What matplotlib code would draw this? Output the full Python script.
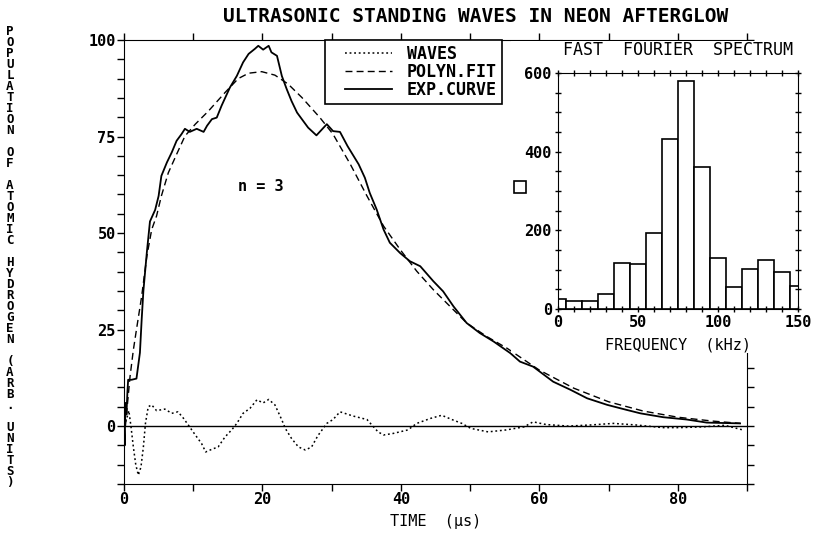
import numpy as np
import matplotlib.pyplot as plt
from matplotlib.patches import Rectangle
from matplotlib.lines import Line2D
from matplotlib.legend_handler import HandlerLine2D
from matplotlib.ticker import MultipleLocator

exp_t = [0, 0.1, 0.2, 0.35, 0.5, 0.6, 1.1, 1.8, 2.3, 2.55, 2.8, 3.3, 3.75, 4.5, 5.0,
         5.4, 6.2, 6.9, 7.6, 8.3, 8.8, 9.5, 10.5, 11.5, 12.0, 12.7, 13.4, 14.1, 15.3,
         16.3, 17.2, 18.0, 18.9, 19.4, 20.1, 20.9, 21.3, 22.1, 22.8, 23.5, 24.2, 25.0,
         25.9, 26.6, 27.8, 29.3, 30.2, 31.2, 32.3, 33.9, 34.8, 35.5, 36.5, 37.5, 38.4,
         39.9, 41.3, 42.8, 44.7, 46.1, 47.6, 49.5, 51.4, 53.4, 55.8, 57.2, 59.1, 62.0,
         64.5, 66.9, 69.8, 72.6, 74.6, 77.9, 81.3, 84.2, 89.0]
exp_v = [0, -5, 6, 3, 9, 12, 12, 12.3, 19, 27.5, 35, 45, 53, 56, 59.6,
         64.8, 68.3, 70.9, 73.9, 75.6, 77, 76.2, 77, 76.2, 77.8, 79.5, 79.9, 83, 87.7,
         90.7, 94.2, 96.4, 97.7, 98.5, 97.5, 98.5, 96.8, 95.9, 90.7, 87.3, 84.2, 81.2,
         79, 77.3, 75.3, 78.2, 76.4, 76.2, 72.5, 67.8, 64.3, 60.4, 56.1, 50.9, 47.5,
         44.8, 42.7, 41.4, 37.5, 34.9, 31, 26.7, 24.1, 21.9, 18.9, 16.7, 15.4, 11.5,
         9.4, 7.2, 5.5, 4.2, 3.3, 2.3, 1.7, 0.9, 0.7]

# polynomial fit (dashed)
poly_t = [0.2, 0.87, 1.35, 1.8, 2.55, 3.3, 4.0, 4.7, 5.4, 6.4, 7.6, 8.8, 10.3, 12.2,
          14.6, 16.5, 18.0, 19.9, 21.8, 23.7, 25.7, 28.3, 30.2, 32.7, 35.1, 37.5, 39.9,
          42.3, 44.7, 47.1, 49.5, 52.4, 55.3, 60, 65, 70, 75, 80, 85, 89]
poly_v = [0, 12.8, 19.7, 25, 33.6, 44, 50.9, 54.4, 59.6, 65.6, 70.4, 75.1, 78.2, 81.6,
          86.4, 90, 91.4, 91.8, 90.9, 88.6, 85.1, 79.9, 75.6, 67.8, 59.6, 51.8, 45.7,
          40.1, 35.3, 31, 26.7, 23.2, 20.2, 14.5, 9.8, 6.3, 3.9, 2.3, 1.3, 0.7]

# waves = exp - fit (dotted)
waves_t = [0, 0.4, 0.7, 1.0, 1.35, 1.7, 2.07, 2.45, 2.8, 3.1, 3.5, 4.0, 4.7, 5.9, 6.9,
           7.8, 8.6, 9.4, 10.3, 11.2, 11.8, 12.7, 13.6, 14.6, 15.6, 16.3, 17.2, 18.2,
           19.2, 20.1, 20.9, 21.8, 22.8, 23.3, 24.2, 25.2, 26.2, 27.1, 28.0, 29.3, 30.2,
           31.2, 33.1, 35.1, 35.8, 36.7, 37.5, 38.9, 41.0, 42.3, 44.3, 45.9, 47.5, 48.8,
           50.1, 52.6, 55.2, 57.8, 59.1, 61.0, 64.2, 67.5, 70.7, 73.9, 77.8, 80.3, 83.6,
           86.8, 89.4]
waves_v = [0, 2, 4, 0, -5.4, -10, -12.7, -10.6, -5.4, 0.7, 5, 5.5, 4, 4.4, 3.3,
           3.7, 2, 0, -2.3, -4.5, -6.7, -6, -5.4, -2.8, -0.9, 0.7, 3.3, 4.6,
           6.8, 6, 6.9, 5.5, 1.6, -0.6, -3.2, -5.4, -6.2, -5.4, -2.5, 0.7, 1.7,
           3.7, 2.6, 1.7, 0.3, -1.5, -2.3, -1.9, -1, 0.7, 2, 2.8, 1.6, 0.7,
           -0.6, -1.5, -1, -0.2, 1.1, 0.4, 0, 0.3, 0.7, 0.3, -0.4, -0.4, -0.2,
           0.2, -1]

# fast fourier spectrum
freq = [0, 10, 20, 30, 40, 50, 60, 70, 80, 90, 100, 110, 120, 130, 140, 150]
amp = [25, 21, 21, 38, 117, 114, 193, 433, 580, 361, 130, 56, 102, 125, 94, 58]

ylabel = "POPULATION OF ATOMIC HYDROGEN (ARB. UNITS)"

plt.rcParams['font.family'] = 'DejaVu Sans Mono'
plt.rcParams['font.weight'] = 'bold'

W, H = 813, 535
fig = plt.figure(figsize=(W/100, H/100), dpi=100)

def box(x0, y0, x1, y1):
    # pixel box (from top-left) -> figure fraction
    return [x0/W, 1-y1/H, (x1-x0)/W, (y1-y0)/H]

ax = fig.add_axes(box(124, 40, 747, 484))
ax.plot(waves_t, waves_v, color='black', lw=1.1, ls=(0, (1.2, 1.8)), label='WAVES')
ax.plot(poly_t, poly_v, color='black', lw=1.0, ls=(0, (5, 3)), label='POLYN.FIT')
ax.plot(exp_t, exp_v, color='black', lw=1.3, label='EXP.CURVE')
ax.axhline(0, color='black', lw=1)
ax.set_xlim(0, 90)
ax.set_ylim(-15, 100)
ax.xaxis.set_major_locator(MultipleLocator(20))
ax.xaxis.set_minor_locator(MultipleLocator(10))
ax.yaxis.set_major_locator(MultipleLocator(25))
ax.yaxis.set_minor_locator(MultipleLocator(5))
ax.tick_params(which='both', direction='out', length=5, width=1,
               top=True, right=True, labelsize=11, pad=1)
ax.text(19.7, 62, 'n = 3', ha='center', va='center', fontsize=11)
ax.set_xlabel('TIME  (\u03bcs)', fontsize=11, labelpad=5)
leg = ax.legend(loc='upper left', bbox_to_anchor=(325/W, 1-40/H), bbox_transform=fig.transFigure,
                fancybox=False, edgecolor='black', framealpha=1, fontsize=12,
                handlelength=4.6, handletextpad=0.0, borderpad=0.3, labelspacing=0.0,
                borderaxespad=0,
                handler_map={Line2D: HandlerLine2D(numpoints=2, marker_pad=0.9)})
leg.get_frame().set_linewidth(1.2)

# white area that holds the spectrum
fig.add_artist(Rectangle((511/W, 1-353/H), (W-511)/W, (353-41)/H,
                         transform=fig.transFigure, facecolor='white', edgecolor='none', zorder=1))

ax2 = fig.add_axes(box(558, 73, 798, 309), zorder=2)
ax2.bar(freq, amp, width=10, color='white', edgecolor='black', lw=1.2)
ax2.set_xlim(0, 150)
ax2.set_ylim(0, 600)
ax2.xaxis.set_major_locator(MultipleLocator(50))
ax2.xaxis.set_minor_locator(MultipleLocator(10))
ax2.yaxis.set_major_locator(MultipleLocator(200))
ax2.yaxis.set_minor_locator(MultipleLocator(50))
ax2.tick_params(which='both', direction='inout', length=5, width=1,
                top=True, right=True, labelsize=11, pad=2)
ax2.set_title('FAST  FOURIER  SPECTRUM', fontsize=12, pad=13)
ax2.set_xlabel('FREQUENCY  (kHz)', fontsize=11, labelpad=5)

fig.add_artist(Line2D([520/W], [1-187/H], marker='s', markersize=8, mfc='white',
                      mec='black', mew=1.2, transform=fig.transFigure, zorder=3))

fig.text(476/W, 1-16/H, 'ULTRASONIC STANDING WAVES IN NEON AFTERGLOW',
         ha='center', va='center', fontsize=14)
fig.text(10/W, 1-257/H, '\n'.join(ylabel), ha='center', va='center',
         fontsize=9, linespacing=0.8)

fig.savefig('out.png', dpi=100)
